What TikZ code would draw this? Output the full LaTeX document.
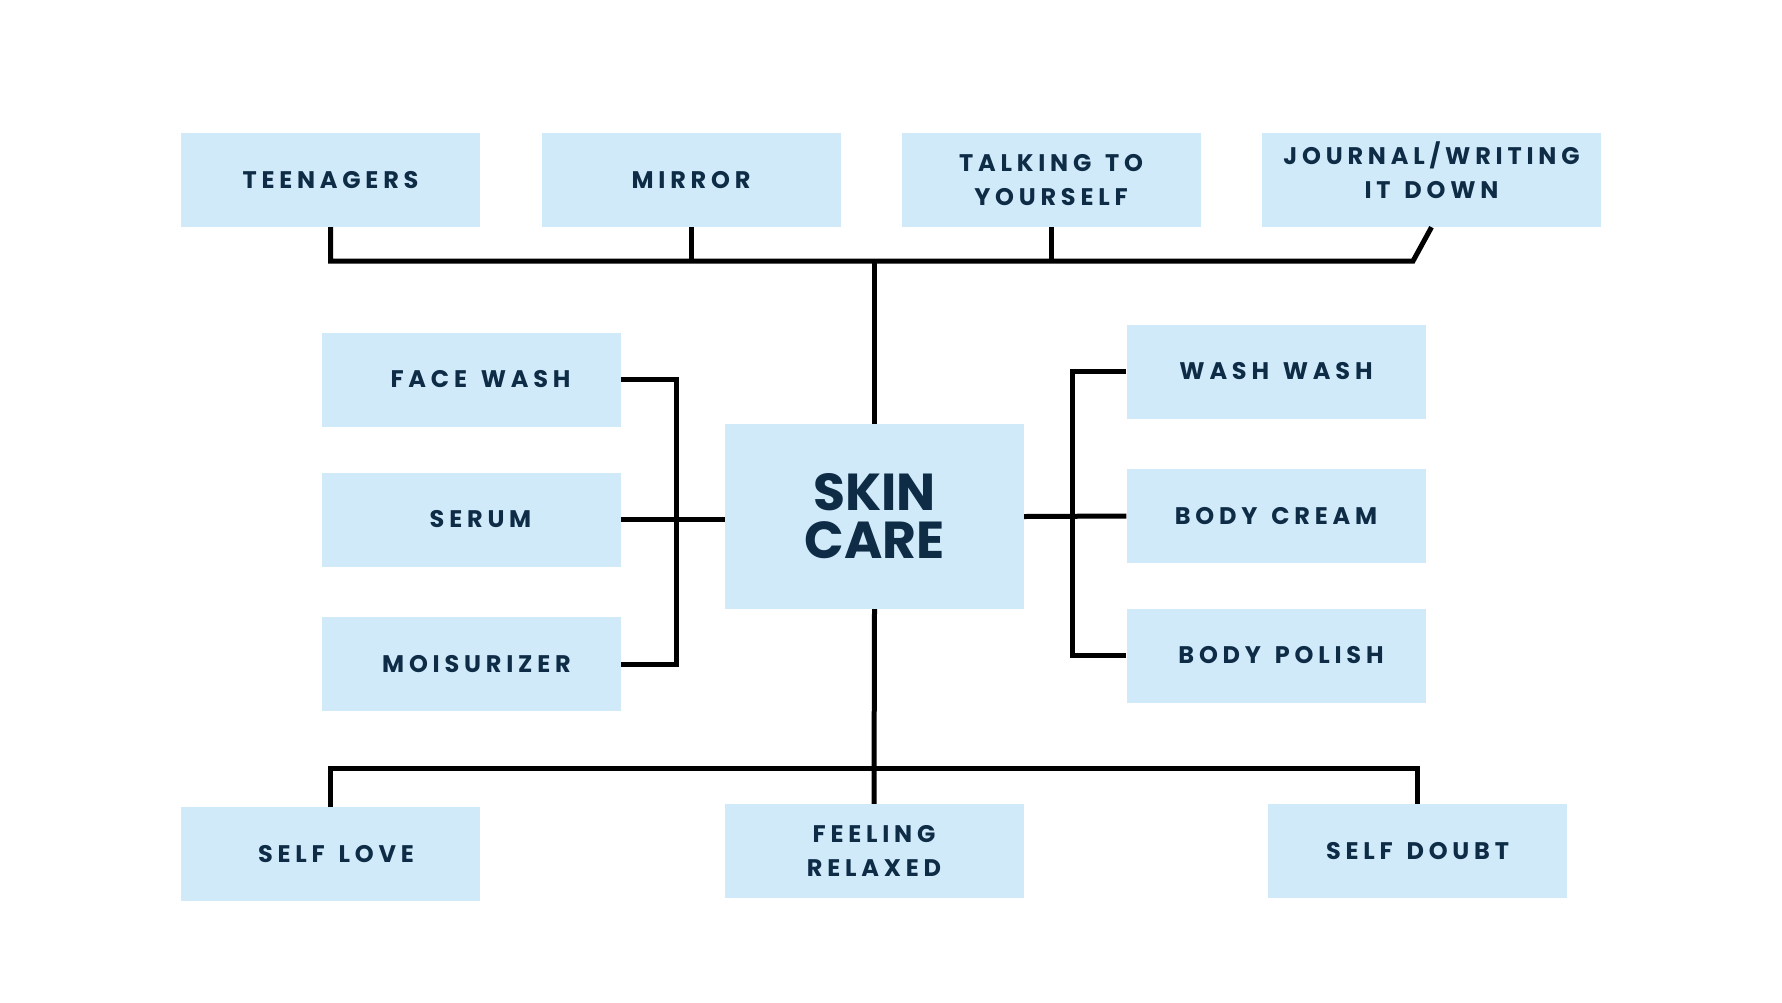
\documentclass[tikz,border=0pt]{standalone}
\usepackage{fontspec}
\setmainfont{Poppins}
\newfontfamily\boxfont{Poppins}[LetterSpace=20, WordSpace=1.4]
\definecolor{boxblue}{RGB}{208,234,250}
\definecolor{navy}{RGB}{14,44,70}
\usetikzlibrary{positioning,calc}

\tikzset{
  item/.style={fill=boxblue, draw=none, minimum width=299pt, minimum height=94pt,
    align=center, text=navy, inner sep=0pt,
    font=\boxfont\bfseries\fontsize{24}{34}\selectfont},
  hub/.style={item, minimum height=185pt, font=\bfseries\fontsize{52}{48}\selectfont},
  link/.style={line width=5pt, black, line join=miter}
}

\begin{document}
\begin{tikzpicture}[x=1pt, y=-1pt]
        \useasboundingbox[fill=white] (0,0) rectangle (1782,1002);

        % Centre
        \node[hub] (skin) at (874.5,516.5) {SKIN\\CARE};

        % Top row
        \node[item] (teen) at (330.5,180) {TEENAGERS};
        \node[item] (mirror) at (691,180) {MIRROR};
        \node[item] (talk) at (1051,180) {TALKING TO\\YOURSELF};
        \node[item, minimum width=339pt] (journal) at (1431.5,180) {JOURNAL/WRITING\\IT DOWN\vphantom{g}\\[-14pt]};

        % Left column
        \node[item] (face) at (471.5,379.5) {\hspace*{18pt}FACE WASH};
        \node[item] (serum) at (471.5,519.5) {\hspace*{18pt}SERUM};
        \node[item] (mois) at (471.5,664) {\hspace*{10pt}MOISURIZER};

        % Right column
        \node[item] (wash) at (1276,371.5) {WASH WASH};
        \node[item] (cream) at (1276,516) {BODY CREAM};
        \node[item] (polish) at (1276,655.5) {\hspace*{10pt}BODY POLISH};

        % Bottom row
        \node[item] (love) at (330,854) {\hspace*{12pt}SELF LOVE};
        \node[item] (relax) at (874,851) {FEELING\\RELAXED};
        \node[item] (doubt) at (1417.5,851) {SELF DOUBT};

        % Bus lines
        \coordinate (topbus) at (874,261);
        \coordinate (topend) at (1413,261);
        \coordinate (botbus) at (874,768);
        \coordinate (lbar) at (676,519);
        \coordinate (rbar) at (1072,517);

        % Top connectors
        \draw[link] (teen.south) |- (topend) -- (journal.south);
        \draw[link] (mirror.south) -- (mirror.south |- topbus);
        \draw[link] (talk.south) -- (talk.south |- topbus);
        \draw[link] (skin.north) -- (skin.north |- topbus);

        % Side connectors
        \draw[link] (face.east) -| (lbar) |- (mois.east);
        \draw[link] (serum.east) -- (serum.east -| skin.west);
        \draw[link] (wash.west) -| (rbar) |- (polish.west);
        \draw[link] (skin.east) -- (cream.west);

        % Bottom connectors
        \draw[link] (skin.south) -- (relax.north);
        \draw[link] (love.north) |- (botbus) -| (doubt.north);
\end{tikzpicture}
\end{document}
